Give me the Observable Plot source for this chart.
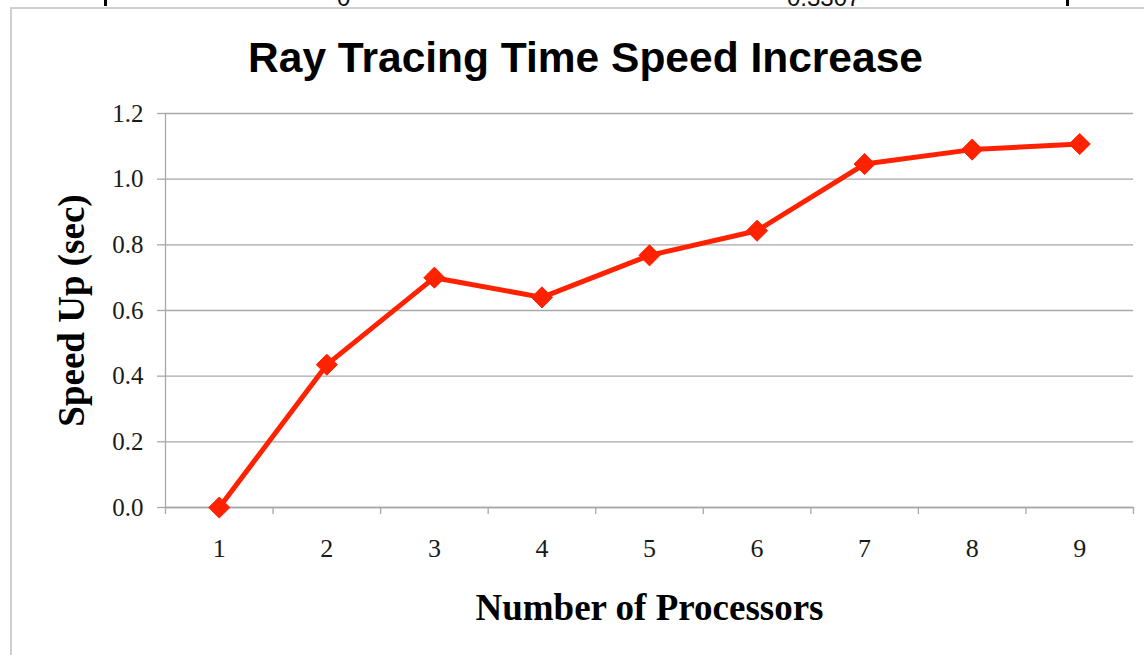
<!DOCTYPE html>
<html>
<head>
<meta charset="utf-8">
<script src="https://cdn.jsdelivr.net/npm/d3@7"></script>
<script src="https://cdn.jsdelivr.net/npm/@observablehq/plot@0.6"></script>
<style>
  html, body { margin: 0; padding: 0; background: #fff; }
  #wrap { position: relative; width: 1144px; height: 655px; overflow: hidden; background: #fff; }
  #frame { position: absolute; left: 10px; top: 7px; right: -4px; bottom: -4px;
           border-left: 2px solid #cfcfcf; border-top: 2px solid #cfcfcf; }
  .cut { position: absolute; top: 0; height: 6px; overflow: hidden; }
  .cut span { position: absolute; bottom: -1px; left: 0; font: 24px "Liberation Sans", Arial, sans-serif;
              color: #111; line-height: 18px; white-space: nowrap; }
  .bar { position: absolute; top: 0; width: 3px; height: 6px; background: #000; }
  #chart { position: absolute; left: 0; top: 0; }
</style>
</head>
<body>
<div id="wrap">
  <div id="frame"></div>
  <div class="bar" style="left:104px"></div>
  <div class="bar" style="left:1066px"></div>
  <div class="cut" style="left:337px;width:20px"><span>0</span></div>
  <div class="cut" style="left:787px;width:80px"><span>0.3307</span></div>
  <div id="chart"></div>
</div>
<script>
// ---- data ----
const title = "Ray Tracing Time Speed Increase";
const xLabel = "Number of Processors";
const yLabel = "Speed Up (sec)";
const processors = [1, 2, 3, 4, 5, 6, 7, 8, 9];
const speedUp = [0, 0.435, 0.70, 0.64, 0.768, 0.843, 1.046, 1.09, 1.107];
const yTicks = [0, 0.2, 0.4, 0.6, 0.8, 1.0, 1.2];
const categoryEdges = [0.5, 1.5, 2.5, 3.5, 4.5, 5.5, 6.5, 7.5, 8.5, 9.5];

const rows = processors.map((p, i) => ({p, v: speedUp[i]}));

const gray = "#a8a8a8";
const red = "#ff2200";
const serif = "'Liberation Serif', 'Times New Roman', serif";
const sans = "'Liberation Sans', Arial, Helvetica, sans-serif";

const chart = Plot.plot({
  width: 1144,
  height: 655,
  marginTop: 113,
  marginBottom: 148,
  marginLeft: 165,
  marginRight: 11,
  style: {fontFamily: serif, background: "transparent", color: "#1a1a1a"},
  x: {domain: [0.5, 9.5]},
  y: {domain: [0, 1.2]},
  marks: [
    Plot.gridY(yTicks, {stroke: gray, strokeOpacity: 1, strokeWidth: 1.3}),
    Plot.axisY(yTicks, {tickSize: 8, tickPadding: 14, stroke: gray, strokeWidth: 1.3,
      tickFormat: d => d.toFixed(1), fontSize: 25, fontFamily: serif, fill: "#1a1a1a", label: null}),
    Plot.ruleX([0.5], {stroke: gray, strokeWidth: 1.3}),
    Plot.ruleY([0], {stroke: gray, strokeWidth: 1.3}),
    Plot.axisX(categoryEdges, {tickSize: 7, stroke: gray, strokeWidth: 1.3, tickFormat: () => "", label: null}),
    Plot.axisX(processors, {tickSize: 0, tickPadding: 31, fontSize: 26, fontFamily: serif,
      fill: "#1a1a1a", tickFormat: d => String(d), label: null}),
    Plot.line(rows, {x: "p", y: "v", stroke: red, strokeWidth: 5, strokeLinejoin: "round", strokeLinecap: "round"}),
    Plot.dot(rows, {x: "p", y: "v", symbol: "diamond2", r: 9.5, fill: red, stroke: red, strokeWidth: 1}),
    Plot.text([title], {frameAnchor: "top", textAnchor: "middle", dx: -64, dy: -55, lineAnchor: "middle",
      fontFamily: sans, fontWeight: "bold", fontSize: 42.5, fill: "#000"}),
    Plot.text([xLabel], {frameAnchor: "bottom", textAnchor: "middle", dy: 101, lineAnchor: "middle",
      fontFamily: serif, fontWeight: "bold", fontSize: 37, fill: "#000"}),
    Plot.text([yLabel], {frameAnchor: "left", textAnchor: "middle", dx: -93, rotate: -90, lineAnchor: "middle",
      fontFamily: serif, fontWeight: "bold", fontSize: 37, fill: "#000"})
  ]
});
document.getElementById("chart").appendChild(chart);
</script>
</body>
</html>
